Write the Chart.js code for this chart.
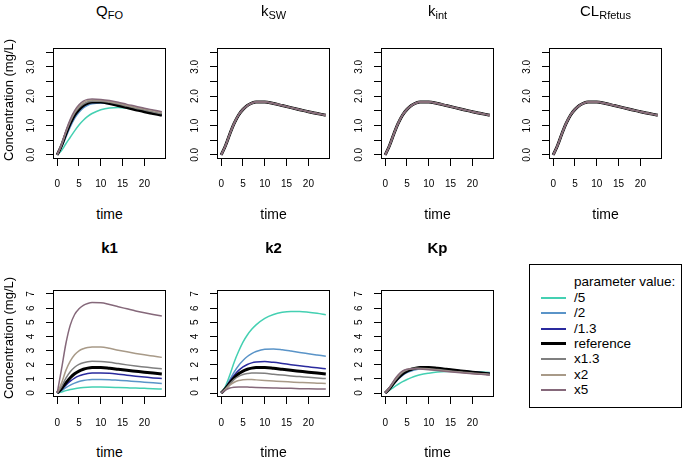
<!DOCTYPE html>
<html>
<head>
<meta charset="utf-8">
<script src="https://cdn.jsdelivr.net/npm/chart.js@4.4.1/dist/chart.umd.min.js"></script>
<style>
  body { margin:0; width:685px; height:458px; position:relative; overflow:hidden; background:#fff;
         font-family:"Liberation Sans", Arial, sans-serif; color:#000; }
  canvas { position:absolute; }
  .txt { position:absolute; white-space:nowrap; line-height:1; text-align:center; }
  .sub { font-size:11px; position:relative; top:3px; }
  #legend { position:absolute; left:529px; top:264px; width:151px; height:142px; border:1px solid #000; }
  .lrow { position:absolute; left:0; height:16px; line-height:16px; font-size:13.5px; white-space:nowrap; }
  .lline { position:absolute; left:11px; width:25px; }
  .ltext { position:absolute; left:44px; }
</style>
</head>
<body>
<div id="legend"></div>
<script>
// time points (h)
const times = [0, 1, 2, 3, 4, 5, 6, 7, 8, 10, 12, 14, 16, 18, 20, 22, 24];
const seriesNames = ['/5', '/2', '/1.3', 'reference', 'x1.3', 'x2', 'x5'];
const seriesColors = ['#44d0b2', '#5a94c8', '#2a2a9e', '#000000', '#7f7f7f', '#a89a88', '#85687a'];
const xTicks = [0, 5, 10, 15, 20];
const yTicksTop = [0, 0.5, 1, 1.5, 2, 2.5, 3, 3.5];
const yTicksBottom = [0, 1, 2, 3, 4, 5, 6, 7];

const reference = [0, 0.32, 0.72, 1.08, 1.36, 1.55, 1.68, 1.76, 1.8, 1.8, 1.75, 1.68, 1.61, 1.54, 1.47, 1.41, 1.35];

// one row per parameter value: /5, /2, /1.3, reference, x1.3, x2, x5
const qfoValues = [
  [0, 0.15, 0.38, 0.6, 0.82, 1.02, 1.18, 1.31, 1.41, 1.54, 1.6, 1.61, 1.59, 1.55, 1.5, 1.44, 1.38],
  [0, 0.26, 0.6, 0.95, 1.24, 1.45, 1.6, 1.69, 1.74, 1.77, 1.74, 1.68, 1.62, 1.55, 1.48, 1.42, 1.36],
  [0, 0.3, 0.68, 1.04, 1.32, 1.52, 1.66, 1.74, 1.78, 1.79, 1.75, 1.68, 1.61, 1.54, 1.47, 1.41, 1.35],
  reference,
  [0, 0.33, 0.76, 1.13, 1.42, 1.61, 1.73, 1.8, 1.83, 1.83, 1.79, 1.73, 1.66, 1.59, 1.53, 1.46, 1.4],
  [0, 0.35, 0.79, 1.17, 1.46, 1.66, 1.78, 1.85, 1.87, 1.86, 1.82, 1.76, 1.69, 1.62, 1.56, 1.5, 1.44],
  [0, 0.36, 0.82, 1.21, 1.51, 1.71, 1.83, 1.89, 1.9, 1.89, 1.85, 1.79, 1.72, 1.66, 1.59, 1.53, 1.47]
];
// kSW, kint and CLRfetus: all curves lie on top of the reference
const kswValues = [reference, reference, reference, reference, reference, reference, reference];
const kintValues = [reference, reference, reference, reference, reference, reference, reference];
const clValues = [reference, reference, reference, reference, reference, reference, reference];
const k1Values = [
  [0, 0.08, 0.17, 0.25, 0.31, 0.36, 0.39, 0.41, 0.42, 0.42, 0.41, 0.39, 0.37, 0.35, 0.33, 0.31, 0.28],
  [0, 0.17, 0.38, 0.56, 0.7, 0.81, 0.88, 0.93, 0.95, 0.96, 0.94, 0.9, 0.86, 0.81, 0.77, 0.72, 0.68],
  [0, 0.25, 0.56, 0.84, 1.06, 1.21, 1.31, 1.38, 1.41, 1.42, 1.39, 1.33, 1.26, 1.19, 1.13, 1.07, 1.02],
  reference,
  [0, 0.45, 1.05, 1.5, 1.82, 2.02, 2.14, 2.21, 2.24, 2.23, 2.17, 2.08, 1.99, 1.91, 1.84, 1.77, 1.71],
  [0, 0.7, 1.6, 2.25, 2.7, 2.98, 3.13, 3.22, 3.26, 3.25, 3.16, 3.03, 2.91, 2.8, 2.7, 2.61, 2.52],
  [0, 1.7, 3.5, 4.8, 5.55, 5.95, 6.2, 6.33, 6.39, 6.38, 6.26, 6.1, 5.95, 5.8, 5.67, 5.55, 5.44]
];
const k2Values = [
  [0, 0.5, 1.3, 2.2, 2.95, 3.6, 4.1, 4.5, 4.82, 5.28, 5.55, 5.7, 5.76, 5.76, 5.71, 5.63, 5.53],
  [0, 0.38, 0.95, 1.5, 1.95, 2.3, 2.58, 2.78, 2.93, 3.1, 3.12, 3.06, 2.97, 2.87, 2.78, 2.69, 2.6],
  [0, 0.35, 0.83, 1.26, 1.6, 1.85, 2.02, 2.13, 2.19, 2.22, 2.17, 2.09, 2.0, 1.92, 1.85, 1.78, 1.72],
  reference,
  [0, 0.3, 0.66, 0.97, 1.18, 1.31, 1.38, 1.42, 1.42, 1.39, 1.33, 1.27, 1.21, 1.16, 1.11, 1.06, 1.02],
  [0, 0.27, 0.56, 0.76, 0.88, 0.94, 0.96, 0.95, 0.93, 0.89, 0.85, 0.81, 0.78, 0.75, 0.72, 0.7, 0.68],
  [0, 0.2, 0.35, 0.41, 0.43, 0.43, 0.42, 0.41, 0.4, 0.38, 0.36, 0.34, 0.33, 0.31, 0.3, 0.29, 0.28]
];
const kpValues = [
  [0, 0.2, 0.42, 0.62, 0.8, 0.96, 1.09, 1.2, 1.29, 1.4, 1.48, 1.52, 1.54, 1.53, 1.51, 1.48, 1.45],
  [0, 0.28, 0.64, 0.98, 1.25, 1.44, 1.56, 1.64, 1.69, 1.72, 1.71, 1.66, 1.61, 1.56, 1.51, 1.46, 1.42],
  [0, 0.31, 0.7, 1.05, 1.33, 1.52, 1.65, 1.73, 1.78, 1.79, 1.75, 1.69, 1.62, 1.55, 1.49, 1.43, 1.38],
  reference,
  [0, 0.34, 0.78, 1.16, 1.45, 1.62, 1.71, 1.75, 1.75, 1.72, 1.66, 1.6, 1.53, 1.47, 1.42, 1.37, 1.33],
  [0, 0.37, 0.84, 1.24, 1.51, 1.66, 1.72, 1.73, 1.72, 1.68, 1.62, 1.56, 1.49, 1.44, 1.38, 1.34, 1.3],
  [0, 0.4, 0.9, 1.3, 1.56, 1.68, 1.72, 1.72, 1.7, 1.65, 1.59, 1.53, 1.47, 1.41, 1.36, 1.32, 1.28]
];

const FONT = '"Liberation Sans", Arial, sans-serif';
const BOX_W = 113, BOX_H = 119;

const panels = [
  { title: 'Q<span class="sub">FO</span>', bold: false, left: 53, top: 40, values: qfoValues, yTicks: yTicksTop, yMax: 3.5, ylab: true },
  { title: 'k<span class="sub">SW</span>', bold: false, left: 217, top: 40, values: kswValues, yTicks: yTicksTop, yMax: 3.5 },
  { title: 'k<span class="sub">int</span>', bold: false, left: 381, top: 40, values: kintValues, yTicks: yTicksTop, yMax: 3.5 },
  { title: 'CL<span class="sub">Rfetus</span>', bold: false, left: 549, top: 40, values: clValues, yTicks: yTicksTop, yMax: 3.5 },
  { title: 'k1', bold: true, left: 53, top: 278, values: k1Values, yTicks: yTicksBottom, yMax: 7, ylab: true },
  { title: 'k2', bold: true, left: 217, top: 278, values: k2Values, yTicks: yTicksBottom, yMax: 7 },
  { title: 'Kp', bold: true, left: 381, top: 278, values: kpValues, yTicks: yTicksBottom, yMax: 7 }
];

const boxPlugin = {
  id: 'box',
  afterDraw(chart) {
    const a = chart.chartArea, g = chart.ctx;
    g.save();
    g.strokeStyle = '#000';
    g.lineWidth = 1;
    g.strokeRect(Math.round(a.left) + 0.5, Math.round(a.top) + 0.5, Math.round(a.right - a.left) - 1, Math.round(a.bottom - a.top) - 1);
    g.restore();
  }
};

function addText(html, css) {
  const d = document.createElement('div');
  d.className = 'txt';
  d.innerHTML = html;
  Object.assign(d.style, css);
  document.body.appendChild(d);
  return d;
}

panels.forEach(p => {
  const top = p.top < 100;
  const cv = document.createElement('canvas');
  cv.width = 50 + BOX_W + 6;
  cv.height = 6 + BOX_H + 40;
  cv.style.left = (p.left - 50) + 'px';
  cv.style.top = (p.top - 6) + 'px';
  document.body.appendChild(cv);

  new Chart(cv, {
    type: 'line',
    data: {
      datasets: p.values.map((vals, i) => ({
        label: seriesNames[i],
        data: times.map((t, j) => ({ x: t, y: vals[j] })),
        borderColor: seriesColors[i],
        borderWidth: i === 3 ? 3 : 1.5,
        pointRadius: 0,
        fill: false,
        cubicInterpolationMode: 'monotone',
        order: 6 - i
      }))
    },
    options: {
      responsive: false,
      animation: false,
      devicePixelRatio: 1,
      events: [],
      layout: { padding: { top: 6, right: 6, left: 0, bottom: 0 } },
      plugins: { legend: { display: false }, tooltip: { enabled: false } },
      scales: {
        x: {
          type: 'linear',
          min: -0.96, max: 24.96,
          afterBuildTicks: s => { s.ticks = xTicks.map(v => ({ value: v })); },
          afterFit: s => { s.height = 40; },
          grid: { drawOnChartArea: false, tickLength: 7, color: '#000' },
          border: { display: false },
          ticks: { autoSkip: false, maxRotation: 0, padding: top ? 12 : 13, color: '#000', font: { size: 10, family: FONT } }
        },
        y: {
          type: 'linear',
          min: -0.04 * p.yMax, max: 1.04 * p.yMax,
          afterBuildTicks: s => { s.ticks = p.yTicks.map(v => ({ value: v })); },
          afterFit: s => { s.width = 50; },
          grid: { drawOnChartArea: false, tickLength: 7, color: '#000' },
          border: { display: false },
          ticks: {
            autoSkip: false, minRotation: 90, maxRotation: 90, crossAlign: 'center',
            padding: top ? 8 : 12, color: '#000', font: { size: 10, family: FONT },
            callback: v => top ? (v % 1 === 0 ? v.toFixed(1) : '') : String(v)
          }
        }
      }
    },
    plugins: [boxPlugin]
  });

  // panel title
  addText(p.title, {
    left: p.left + 'px', width: BOX_W + 'px',
    top: (top ? 2.5 : 239.5) + 'px',
    fontSize: '15px', fontWeight: p.bold ? 'bold' : 'normal'
  });
  // x axis title
  addText('time', {
    left: p.left + 'px', width: BOX_W + 'px',
    top: (top ? 206.5 : 445) + 'px', fontSize: '14px'
  });
  // y axis title
  if (p.ylab) {
    const cy = Math.round(p.top + BOX_H / 2);
    const d = addText('Concentration (mg/L)', {
      left: '-91px', width: '200px', height: '14px', lineHeight: '14px',
      top: (cy - 7) + 'px', fontSize: '13px'
    });
    d.style.transform = 'rotate(-90deg)';
  }
});

// legend
const legend = document.getElementById('legend');
const rows = ['parameter value:'].concat(seriesNames);
rows.forEach((name, r) => {
  const row = document.createElement('div');
  row.className = 'lrow';
  row.style.top = Math.round(282.3 + 15.4 * r - 8 - 265) + 'px';
  const txt = document.createElement('span');
  txt.className = 'ltext';
  txt.textContent = name;
  row.appendChild(txt);
  if (r > 0) {
    const i = r - 1;
    const ln = document.createElement('div');
    ln.className = 'lline';
    const w = i === 3 ? 3 : 2;
    ln.style.top = (8 - Math.ceil(w / 2)) + 'px';
    ln.style.height = w + 'px';
    ln.style.background = seriesColors[i];
    row.appendChild(ln);
  }
  legend.appendChild(row);
});
</script>
</body>
</html>
